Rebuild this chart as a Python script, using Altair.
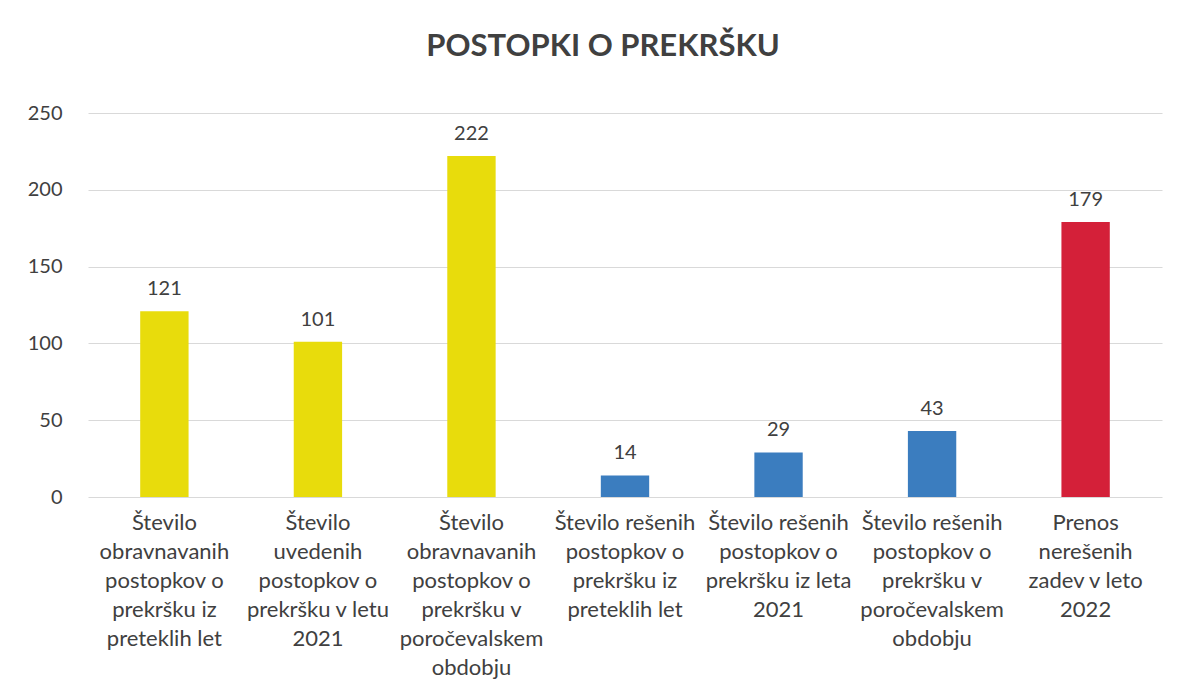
import altair as alt
import pandas as pd

categories = [
    "Število\nobravnavanih\npostopkov o\nprekršku iz\npreteklih let",
    "Število\nuvedenih\npostopkov o\nprekršku v letu\n2021",
    "Število\nobravnavanih\npostopkov o\nprekršku v\nporočevalskem\nobdobju",
    "Število rešenih\npostopkov o\nprekršku iz\npreteklih let",
    "Število rešenih\npostopkov o\nprekršku iz leta\n2021",
    "Število rešenih\npostopkov o\nprekršku v\nporočevalskem\nobdobju",
    "Prenos\nnerešenih\nzadev v leto\n2022",
]
values = [121, 101, 222, 14, 29, 43, 179]
colors = ["#e8dc0c", "#e8dc0c", "#e8dc0c", "#3b7dbf", "#3b7dbf", "#3b7dbf", "#d42039"]

df = pd.DataFrame({"cat": categories, "val": values, "color": colors})

FONT = "Lato"
TXT = "#404040"

x = alt.X(
    "cat:N",
    sort=None,
    title=None,
    scale=alt.Scale(paddingInner=0.685, paddingOuter=0.34),
    axis=alt.Axis(
        labelExpr="split(datum.value, '\\n')",
        labelAngle=0,
        labelFont=FONT,
        labelFontSize=22,
        labelColor=TXT,
        labelLineHeight=29,
        labelPadding=15,
        labelBaseline="top",
        ticks=False,
        domain=False,
        grid=False,
        labelLimit=250,
        labelOverlap=False,
    ),
)
y = alt.Y(
    "val:Q",
    title=None,
    scale=alt.Scale(domain=[0, 250]),
    axis=alt.Axis(
        values=[0, 50, 100, 150, 200, 250],
        labelFont=FONT,
        labelFontSize=20,
        labelColor=TXT,
        labelPadding=26,
        ticks=False,
        domain=False,
        gridColor="#d9d9d9",
        gridWidth=1,
    ),
)

bars = alt.Chart(df).mark_bar().encode(
    x=x, y=y, color=alt.Color("color:N", scale=None)
)
labels = alt.Chart(df).mark_text(
    baseline="bottom", dy=-12, font=FONT, fontSize=20, color=TXT
).encode(x=x, y=y, text="val:Q")

chart = (
    (bars + labels)
    .properties(
        width=1074,
        height=384,
        padding={"left": 88, "top": 113, "right": 18, "bottom": 200},
        autosize=alt.AutoSizeParams(type="none"),
        title=alt.TitleParams(
            "POSTOPKI O PREKRŠKU",
            font=FONT,
            fontSize=31,
            fontWeight="bold",
            color=TXT,
            anchor="middle",
            offset=40,
            dx=-22,
        ),
    )
    .configure(background="white")
    .configure_view(strokeWidth=0, stroke="transparent")
)

chart.save("out.html", embed_options={"renderer": "svg", "actions": False})
